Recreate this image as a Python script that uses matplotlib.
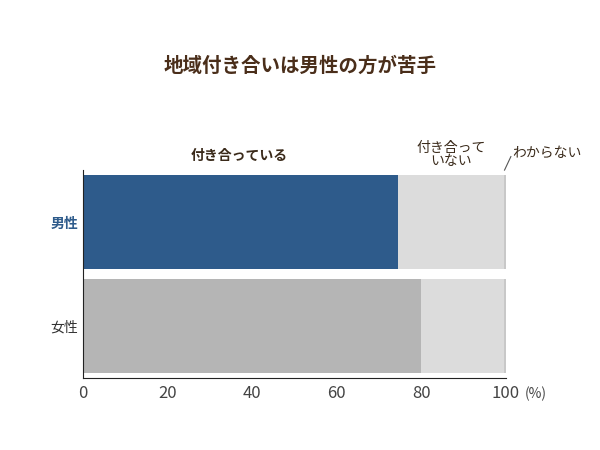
import matplotlib
matplotlib.use("Agg")
import matplotlib.pyplot as plt

plt.rcParams['font.family'] = ['Noto Sans CJK JP', 'DejaVu Sans']

categories = ['男性', '女性']
dating = [74.5, 80.0]
not_dating = [25.0, 19.6]
unknown = [0.5, 0.4]

fig = plt.figure(figsize=(6, 4.5), dpi=100)
ax = fig.add_axes([0.138, 0.16, 0.705, 0.462])
y = [1, 0]
ax.barh(y, dating, height=0.9, color=['#2e5b8b', '#b5b5b5'])
ax.barh(y, not_dating, left=dating, height=0.9, color='#dcdcdc')
left2 = [a + b for a, b in zip(dating, not_dating)]
ax.barh(y, unknown, left=left2, height=0.9, color='#c8c8c8')
ax.set_xlim(0, 100)
ax.set_ylim(-0.5, 1.5)
ax.set_xticks([0, 20, 40, 60, 80, 100])
ax.tick_params(axis='x', labelsize=12, colors='#444444', length=0, pad=5)
ax.set_yticks(y)
ax.set_yticklabels(categories, fontsize=10)
ax.tick_params(axis='y', length=0)
ax.get_yticklabels()[0].set_color('#2e5b8b')
ax.get_yticklabels()[0].set_fontweight('bold')
ax.get_yticklabels()[1].set_color('#333333')
for s in ['top', 'right']:
    ax.spines[s].set_visible(False)
ax.spines['left'].set_color('#222222')
ax.spines['bottom'].set_color('#222222')

fig.text(0.5, 0.84, '地域付き合いは男性の方が苦手', ha='center', fontsize=14,
         fontweight='bold', color='#4a2e1a')
ax.text(37, 1.57, '付き合っている', ha='center', va='bottom', fontsize=10,
        fontweight='bold', color='#3a2a1a')
ax.text(87, 1.52, '付き合って\nいない', ha='center', va='bottom', fontsize=10,
        color='#3a2a1a', linespacing=0.95)
ax.text(101.5, 1.6, 'わからない', ha='left', va='bottom', fontsize=10, color='#3a2a1a')
ax.plot([99.7, 101.2], [1.5, 1.63], color='#555555', lw=0.8, clip_on=False)
ax.text(104.5, -0.58, '(%)', ha='left', va='top', fontsize=10, color='#444444')
fig.savefig('out.png')
